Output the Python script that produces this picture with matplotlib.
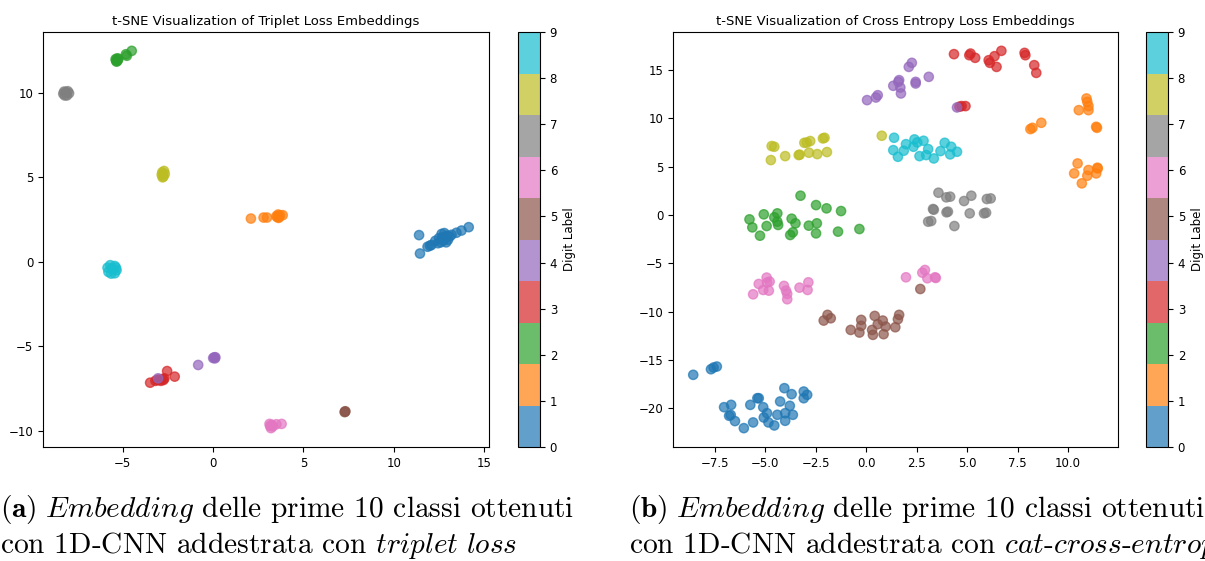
import matplotlib.pyplot as plt
import numpy as np

plt.rcParams['mathtext.fontset'] = 'cm'

# --- triplet loss: punti (x, y) per ogni cifra ---
tri_0 = [(11.40, 1.58), (11.45, 0.49), (11.87, 0.89), (12.00, 0.95), (12.09, 1.00),
         (12.30, 1.24), (12.45, 1.10), (12.50, 1.40), (12.60, 1.15), (12.65, 1.65),
         (12.70, 1.45), (12.75, 1.25), (12.80, 1.70), (12.85, 1.40), (12.90, 1.15),
         (12.95, 1.55), (13.00, 1.30), (13.10, 1.50), (13.20, 1.60), (13.47, 1.72),
         (13.75, 1.85), (14.15, 2.05)]
tri_1 = [(2.09, 2.56), (2.79, 2.62), (2.98, 2.62), (3.50, 2.70), (3.60, 2.80),
         (3.62, 2.60), (3.70, 2.75), (3.65, 2.65), (3.85, 2.76), (3.55, 2.65)]
tri_2 = [(-5.40, 12.00), (-5.30, 11.90), (-5.35, 11.85), (-5.25, 12.00), (-5.30, 12.05),
         (-5.38, 11.92), (-4.83, 12.29), (-4.78, 12.20), (-4.51, 12.49)]
tri_3 = [(-3.49, -7.16), (-3.20, -7.05), (-3.10, -7.00), (-3.00, -6.98), (-2.90, -7.05),
         (-2.80, -6.95), (-2.75, -7.00), (-2.70, -6.90), (-2.55, -6.47), (-2.13, -6.80)]
tri_4 = [(-3.05, -6.90), (-0.83, -6.11), (0.00, -5.70), (0.06, -5.66), (0.12, -5.65),
         (0.10, -5.72)]
tri_5 = [(7.30, -8.88), (7.32, -8.85), (7.28, -8.90)]
tri_6 = [(3.15, -9.72), (3.20, -9.85), (3.25, -9.65), (3.30, -9.75), (3.22, -9.70),
         (3.12, -9.60), (3.50, -9.62), (3.79, -9.60)]
tri_7 = [(-8.30, 9.95), (-8.15, 10.05), (-8.10, 9.85), (-7.98, 9.98), (-8.22, 9.85),
         (-8.05, 10.10), (-8.25, 10.08)]
tri_8 = [(-2.82, 5.30), (-2.75, 5.05), (-2.68, 5.20), (-2.80, 5.00), (-2.72, 5.38),
         (-2.85, 5.15)]
tri_9 = [(-5.85, -0.35), (-5.45, -0.25), (-5.65, -0.70), (-5.35, -0.50), (-5.80, -0.60),
         (-5.55, -0.45), (-5.70, -0.20), (-5.45, -0.68), (-5.62, -0.40), (-5.38, -0.35)]

# --- cross entropy: punti (x, y) per ogni cifra ---
ce_0 = [(-8.58, -16.55), (-7.70, -15.97), (-7.57, -15.79), (-7.41, -15.69), (-7.05, -19.90),
        (-6.70, -19.66), (-6.80, -20.79), (-6.72, -20.70), (-6.51, -21.34), (-6.07, -22.07),
        (-5.75, -19.66), (-5.61, -21.48), (-5.40, -18.97), (-5.33, -18.97), (-5.11, -19.90),
        (-5.08, -20.97), (-4.92, -20.52), (-4.85, -21.48), (-4.56, -21.79), (-4.41, -20.69),
        (-4.27, -19.31), (-4.06, -17.93), (-4.02, -20.52), (-4.02, -21.31), (-3.79, -19.76),
        (-3.70, -18.55), (-3.64, -20.69), (-3.10, -18.28), (-3.10, -18.97), (-2.93, -18.62)]
ce_1 = [(10.92, 12.07), (10.96, 11.72), (11.02, 11.28), (10.54, 10.86), (11.02, 10.86),
        (8.14, 8.90), (8.24, 9.03), (8.68, 9.55), (11.40, 9.14), (11.44, 9.03),
        (10.48, 5.34), (10.31, 4.31), (10.69, 3.28), (10.96, 4.07), (11.02, 4.66),
        (11.46, 4.90), (11.48, 4.82), (11.40, 4.31)]
ce_2 = [(-5.79, -0.45), (-5.65, -1.28), (-5.27, -2.14), (-5.08, 0.07), (-4.94, -1.14),
        (-4.56, -0.24), (-4.41, 0.17), (-4.41, -0.69), (-4.37, -1.03), (-3.70, -0.38),
        (-3.51, -0.86), (-3.77, -2.07), (-3.64, -1.79), (-3.26, 2.00), (-2.85, -1.10),
        (-2.49, 1.03), (-2.45, -0.86), (-2.49, -1.90), (-1.97, 0.69), (-1.25, 0.41),
        (-1.40, -1.72), (-0.34, -1.45)]
ce_3 = [(4.35, 16.66), (5.11, 16.55), (5.17, 16.72), (5.40, 16.28), (6.07, 16.03),
        (6.13, 15.76), (6.36, 16.45), (6.46, 15.34), (6.70, 17.00), (7.85, 16.79),
        (7.89, 16.55), (8.33, 15.52), (8.43, 14.72), (4.73, 11.28), (4.92, 11.28),
        (4.62, 11.22)]
ce_4 = [(0.04, 11.90), (0.48, 12.17), (0.57, 12.41), (1.34, 13.38), (1.59, 13.79),
        (1.63, 13.97), (1.69, 13.20), (1.72, 12.59), (2.11, 15.34), (2.26, 15.76),
        (2.45, 13.62), (2.45, 13.79), (3.10, 14.31), (4.50, 11.14)]
ce_5 = [(2.68, -7.66), (-2.11, -10.93), (-1.92, -10.34), (-1.76, -10.69), (-0.77, -11.90),
        (-0.34, -12.17), (-0.25, -10.86), (-0.25, -11.48), (0.29, -11.90), (0.33, -12.41),
        (0.42, -10.45), (0.57, -11.31), (0.82, -10.93), (0.86, -12.34), (0.96, -11.55),
        (1.44, -11.62), (1.57, -10.79), (1.63, -10.34)]
ce_6 = [(-5.61, -8.21), (-5.33, -7.14), (-5.11, -7.76), (-4.94, -6.48), (-4.92, -7.00),
        (-4.83, -7.83), (-4.79, -6.90), (-4.08, -7.34), (-3.98, -7.83), (-3.92, -8.17),
        (-3.92, -8.72), (-3.31, -7.52), (-2.87, -6.97), (-2.91, -7.76), (1.97, -6.45),
        (2.78, -5.97), (2.91, -5.69), (3.03, -6.55), (3.41, -6.45), (3.45, -6.52)]
ce_7 = [(3.58, 2.31), (3.97, 1.83), (4.16, 1.90), (4.85, 1.45), (5.21, 2.00),
        (5.98, 1.66), (6.17, 1.72), (3.31, 0.62), (3.35, 0.55), (3.98, 0.28),
        (4.05, 0.35), (5.13, 0.17), (5.84, 0.17), (5.94, 0.24), (3.07, -0.69),
        (3.22, -0.62), (4.37, -1.14)]
ce_8 = [(-4.69, 7.14), (-4.56, 7.07), (-4.73, 5.69), (-4.02, 6.10), (-3.35, 6.21),
        (-3.30, 6.25), (-3.07, 7.48), (-2.95, 7.50), (-2.78, 7.66), (-2.84, 6.45),
        (-2.43, 6.31), (-2.15, 7.93), (-2.07, 8.00), (-1.95, 6.52), (0.77, 8.21)]
ce_9 = [(1.38, 8.00), (1.34, 6.72), (1.57, 6.03), (1.86, 6.66), (1.97, 7.34),
        (2.34, 7.07), (2.39, 7.83), (2.53, 7.52), (2.64, 6.10), (2.84, 7.69),
        (2.97, 6.21), (3.07, 6.83), (3.35, 5.86), (3.68, 6.62), (3.89, 7.48),
        (4.21, 7.07), (4.16, 6.28), (4.50, 6.55)]

triplet_groups = [tri_0, tri_1, tri_2, tri_3, tri_4, tri_5, tri_6, tri_7, tri_8, tri_9]
ce_groups = [ce_0, ce_1, ce_2, ce_3, ce_4, ce_5, ce_6, ce_7, ce_8, ce_9]

titles = ['t-SNE Visualization of Triplet Loss Embeddings',
          't-SNE Visualization of Cross Entropy Loss Embeddings']

captions = [
    (r'$\mathbf{(a)}\ \mathit{Embedding}\text{ delle prime 10 classi ottenuti}$',
     r'$\text{con 1D-CNN addestrata con }\mathit{triplet\ loss}$'),
    (r'$\mathbf{(b)}\ \mathit{Embedding}\text{ delle prime 10 classi ottenuti}$',
     r'$\text{con 1D-CNN addestrata con }\mathit{cat}\text{-}\mathit{cross}\text{-}\mathit{entropy}$'),
]


def stack(groups):
    xs, ys, labs = [], [], []
    for d, pts in enumerate(groups):
        for x, y in pts:
            xs.append(x)
            ys.append(y)
            labs.append(d)
    return np.array(xs), np.array(ys), np.array(labs)


W, H = 1205, 561
fig = plt.figure(figsize=(W / 100, H / 100), dpi=100)

# posizioni in pixel: (sinistra assi, destra assi, sinistra colorbar)
layout = [(43, 489, 518), (673, 1118, 1146)]
top, bottom = 32, 447
cap_x = [0, 629]

for i, groups in enumerate([triplet_groups, ce_groups]):
    l, r, cl = layout[i]
    ax = fig.add_axes([l / W, 1 - bottom / H, (r - l) / W, (bottom - top) / H])
    x, y, lab = stack(groups)
    sc = ax.scatter(x, y, c=lab, cmap='tab10', vmin=0, vmax=9, s=45, alpha=0.7)
    ax.set_title(titles[i], fontsize=9.5, pad=5)
    ax.tick_params(labelsize=8.5)

    cax = fig.add_axes([cl / W, 1 - bottom / H, 22 / W, (bottom - top) / H])
    cb = fig.colorbar(sc, cax=cax, ticks=range(10))
    cb.set_label('Digit Label', fontsize=8.5)
    cb.ax.tick_params(labelsize=8.5)

    fig.text(cap_x[i] / W, 1 - 517 / H, captions[i][0], fontsize=21.2, va='baseline')
    fig.text(cap_x[i] / W, 1 - 553 / H, captions[i][1], fontsize=21.2, va='baseline')

fig.savefig('out.png', dpi=100)
